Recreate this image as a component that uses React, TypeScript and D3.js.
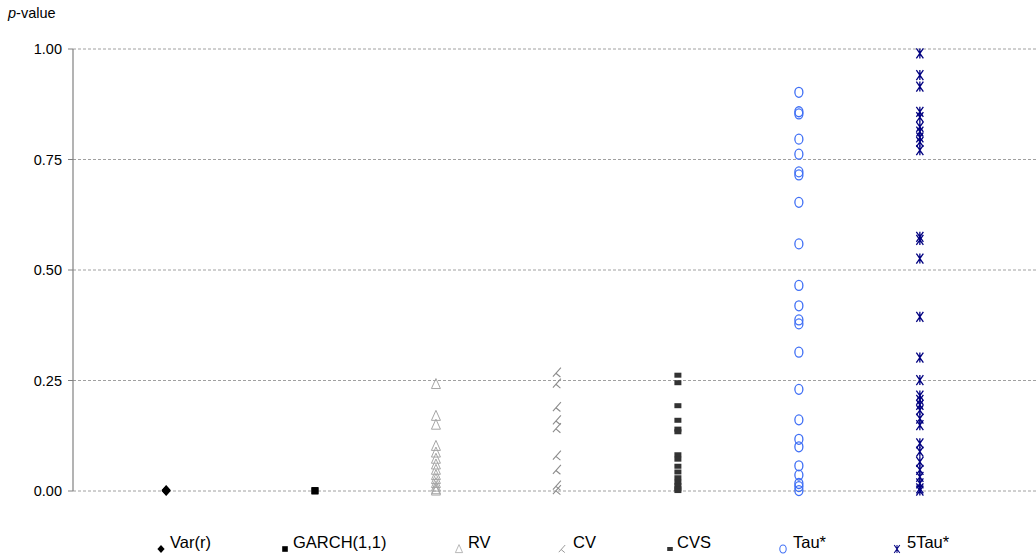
import React from "react";
import * as d3 from "d3";

const categories = ["Var(r)", "GARCH(1,1)", "RV", "CV", "CVS", "Tau*", "5Tau*"];
const categoryPositions = [0.77, 2, 3, 4, 5, 6, 7];
const yTicks = [0, 0.25, 0.5, 0.75, 1.0];

const varR = [0, 0.001, 0.002];
const garch = [0, 0.001];
const rv = [0.242, 0.17, 0.15, 0.102, 0.087, 0.073, 0.06, 0.048, 0.036, 0.027, 0.018, 0.01, 0.004, 0.001];
const cv = [0.268, 0.243, 0.19, 0.16, 0.142, 0.08, 0.048, 0.012, 0.002];
const cvs = [0.262, 0.245, 0.193, 0.16, 0.14, 0.134, 0.082, 0.072, 0.056, 0.043, 0.03, 0.02, 0.012, 0.005, 0.001];
const tau = [0.902, 0.858, 0.853, 0.796, 0.762, 0.722, 0.715, 0.653, 0.559, 0.465, 0.419, 0.387, 0.378, 0.314, 0.23, 0.161, 0.117, 0.1, 0.057, 0.036, 0.017, 0.01, 0.001];
const tau5 = [0.99, 0.941, 0.915, 0.858, 0.846, 0.824, 0.813, 0.8, 0.79, 0.771, 0.575, 0.568, 0.526, 0.394, 0.302, 0.251, 0.216, 0.206, 0.195, 0.183, 0.164, 0.149, 0.108, 0.089, 0.066, 0.048, 0.032, 0.017, 0.006, 0.001];

const series = [varR, garch, rv, cv, cvs, tau, tau5];

const W = 1036, H = 558;
const M = { left: 73, right: 1036, top: 49, bottom: 491 };
const FONT = "'Liberation Sans', Arial, sans-serif";

const x = d3.scaleLinear().domain([0, 7.96]).range([M.left, M.right]);
const y = d3.scaleLinear().domain([0, 1]).range([M.bottom, M.top]);

function Marker({ kind, cx, cy, s = 1 }: { kind: number; cx: number; cy: number; s?: number }) {
  const t = `translate(${cx},${cy}) scale(${s})`;
  switch (kind) {
    case 0:
      return <path transform={t} d="M0,-5 L4.5,0 L0,5 L-4.5,0 Z" fill="#000" />;
    case 1:
      return <rect transform={t} x={-3.5} y={-3.5} width={7} height={7} fill="#000" />;
    case 2:
      return <path transform={t} d="M0,-5.5 L4.5,4.5 L-4.5,4.5 Z" fill="none" stroke="#a6a6a6" strokeWidth={1} />;
    case 3:
      return <path transform={t} d="M4,-5 L-4,4 M-1,0.7 L3.5,4.5" fill="none" stroke="#8c8c8c" strokeWidth={1.1} />;
    case 4:
      return <rect transform={t} x={-3.5} y={-2.5} width={7} height={5} fill="#333333" />;
    case 5:
      return <ellipse transform={t} cx={0} cy={0} rx={4} ry={5} fill="none" stroke="#3f6ff5" strokeWidth={1.3} />;
    default:
      return <path transform={t} d="M-3.5,-5 L3.5,5 M3.5,-5 L-3.5,5 M0,-5 L0,5" fill="none" stroke="#000080" strokeWidth={1.3} />;
  }
}

const legendMarkerX = [161, 285, 459, 562, 670, 783, 897];
const legendTextX = [170, 293, 468, 573, 677, 793, 907];

export default function App() {
  return (
    <svg width={W} height={H} style={{ position: "absolute", left: 0, top: 0, background: "#fff" }} fontFamily={FONT}>
      <rect width={W} height={H} fill="#fff" />
      {yTicks.map((t) => (
        <g key={t}>
          <line x1={M.left} x2={M.right} y1={y(t)} y2={y(t)} stroke="#a0a0a0" strokeWidth={1} strokeDasharray="3,2" />
          <line x1={M.left - 5} x2={M.left} y1={y(t)} y2={y(t)} stroke="#808080" strokeWidth={1} />
          <text x={M.left - 11} y={y(t)} dy="0.35em" textAnchor="end" fontSize={14.5} fill="#000">
            {d3.format(".2f")(t)}
          </text>
        </g>
      ))}
      <line x1={M.left} x2={M.left} y1={M.top} y2={M.bottom} stroke="#808080" strokeWidth={1.2} />
      <text x={8} y={18} fontSize={14.5} fill="#000">
        <tspan fontStyle="italic">p</tspan>-value
      </text>
      {series.map((vals, i) =>
        vals.map((v, j) => <Marker key={`${i}-${j}`} kind={i} cx={x(categoryPositions[i])} cy={y(v)} />)
      )}
      {categories.map((c, i) => (
        <g key={c}>
          <Marker kind={i} cx={legendMarkerX[i]} cy={549} s={0.8} />
          <text x={legendTextX[i]} y={548} fontSize={16.5} fill="#000">{c}</text>
        </g>
      ))}
    </svg>
  );
}
